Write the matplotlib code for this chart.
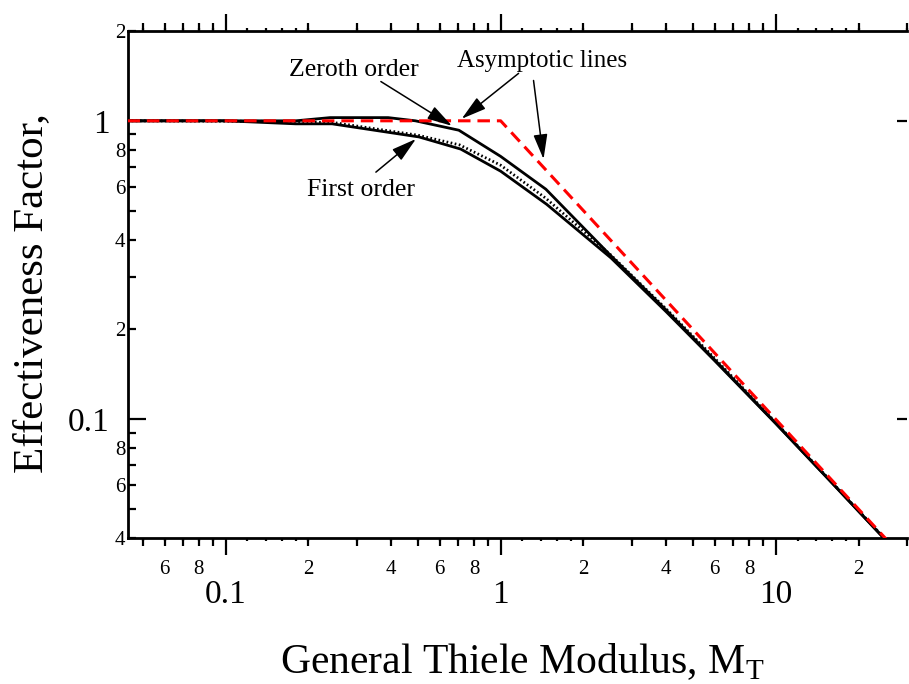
import numpy as np
import matplotlib
matplotlib.use('Agg')
import matplotlib.pyplot as plt
from matplotlib.ticker import FixedLocator, FuncFormatter, NullLocator

plt.rcParams['font.family'] = 'Liberation Serif'
plt.rcParams['lines.scale_dashes'] = False

# values
m_zero = [0.044, 0.1, 0.18, 0.24, 0.39, 0.49, 0.705, 1.0, 1.46, 2.5, 4.0, 6.0, 10.0, 16.0, 25.0, 30.0]
eta_zero = [1.0, 1.0, 1.0, 1.025, 1.025, 1.0, 0.93, 0.76, 0.59, 0.355, 0.232, 0.158, 0.097, 0.0613, 0.0395, 0.0329]

m_first = [0.044, 0.1, 0.18, 0.244, 0.505, 0.716, 1.0, 1.47, 2.52, 4.0, 6.0, 10.0, 16.0, 25.0, 30.0]
eta_first = [1.0, 1.0, 0.977, 0.977, 0.883, 0.804, 0.678, 0.525, 0.347, 0.229, 0.157, 0.0967, 0.0612, 0.0395, 0.0326]

m_dot = [0.044, 0.18, 0.25, 0.5, 0.71, 1.0, 1.46, 2.5, 4.0, 6.0, 10.0, 16.0, 25.0, 30.0]
eta_dot = [1.0, 0.995, 0.985, 0.895, 0.83, 0.71, 0.55, 0.357, 0.234, 0.16, 0.0975, 0.0615, 0.0397, 0.033]

m_asym = [0.044, 1.0, 30.0]
eta_asym = [1.0, 1.0, 0.0333]

x_major = [0.1, 1, 10]
x_major_lab = ['0.1', '1', '10']
x_minor = [0.05, 0.06, 0.07, 0.08, 0.09, 0.2, 0.3, 0.4, 0.5, 0.6, 0.7, 0.8, 0.9,
           2, 3, 4, 5, 6, 7, 8, 9, 20, 30]
x_minor_lab = [0.06, 0.08, 0.2, 0.4, 0.6, 0.8, 2, 4, 6, 8, 20]
x_tiny = [0.12, 0.14, 0.16, 0.18, 1.2, 1.4, 1.6, 1.8, 12, 14, 16, 18]
y_major = [0.1, 1]
y_major_lab = ['0.1', '1']
y_minor = [0.04, 0.05, 0.06, 0.07, 0.08, 0.09, 0.2, 0.3, 0.4, 0.5, 0.6, 0.7, 0.8, 0.9, 2]
y_minor_lab = [0.04, 0.06, 0.08, 0.2, 0.4, 0.6, 0.8, 2]


def digit_label(labelled):
    # minor ticks show only their leading digit
    def fmt(v, pos):
        if any(abs(v - t) < 1e-9 for t in labelled):
            return '%d' % round(v / 10 ** np.floor(np.log10(v) + 1e-9))
        return ''
    return FuncFormatter(fmt)


fig = plt.figure(figsize=(9.09, 6.84), dpi=100)
ax = fig.add_axes([0.1408, 0.2135, 0.857, 0.7412])

ax.plot(m_zero, eta_zero, color='black', lw=2.0, zorder=2)
ax.plot(m_first, eta_first, color='black', lw=2.0, zorder=2)
ax.plot(m_dot, eta_dot, color='black', lw=2.0, dashes=(1.2, 1.8), zorder=2)
ax.plot(m_asym, eta_asym, color='#ff0000', lw=2.2, dashes=(9, 5), zorder=3)

ax.set_xscale('log')
ax.set_yscale('log')
ax.set_xlim(0.0442, 30)
ax.set_ylim(0.04, 2)

ax.spines['right'].set_visible(False)
for s in ('left', 'bottom', 'top'):
    ax.spines[s].set_linewidth(2)

ax.set_xticks(x_major, x_major_lab)
ax.xaxis.set_minor_locator(FixedLocator(x_minor))
ax.xaxis.set_minor_formatter(digit_label(x_minor_lab))
ax.set_yticks(y_major, y_major_lab)
ax.yaxis.set_minor_locator(FixedLocator(y_minor))
ax.yaxis.set_minor_formatter(digit_label(y_minor_lab))

ax.tick_params(axis='x', which='both', direction='out', top=True, bottom=True, width=1.6)
ax.tick_params(axis='x', which='major', length=12, labelsize=24, pad=18)
ax.tick_params(axis='x', which='minor', length=6, labelsize=15, pad=10)
ax.tick_params(axis='y', which='both', direction='in', left=True, right=False, width=1.6)
ax.tick_params(axis='y', which='major', length=13, labelsize=24, pad=13)
ax.tick_params(axis='y', which='minor', length=6, labelsize=15, pad=2)

# tiny ticks between 1 and 2 of each decade
for loc in ('bottom', 'top'):
    sec = ax.secondary_xaxis(loc)
    sec.set_xticks(x_tiny)
    sec.tick_params(which='both', direction='out', length=2.5, width=1.6,
                    labelbottom=False, labeltop=False)
    sec.spines[loc].set_visible(False)

# right side: only the decade ticks
secy = ax.secondary_yaxis('right')
secy.set_yticks(y_major)
secy.yaxis.set_minor_locator(NullLocator())
secy.tick_params(which='both', direction='in', length=7, width=1.6, labelright=False)
secy.spines['right'].set_visible(False)

fig.text(32 / 909, 1 - 293 / 684, 'Effectiveness Factor,', rotation=90,
         ha='center', va='center', fontsize=31)
fig.text(522 / 909, 1 - 673 / 684, 'General Thiele Modulus, M$_{\\mathregular{T}}$',
         ha='center', va='baseline', fontsize=30)

arrow = dict(arrowstyle='-|>,head_length=0.85,head_width=0.24', color='black',
             lw=1.1, mutation_scale=18, shrinkA=0, shrinkB=0)
ax.text(0.1706, 1.408, 'Zeroth order', fontsize=18.5, ha='left', va='baseline')
ax.annotate('', xy=(0.665, 0.962), xytext=(0.367, 1.354), arrowprops=arrow)
ax.text(0.198, 0.558, 'First order', fontsize=18.5, ha='left', va='baseline')
ax.annotate('', xy=(0.492, 0.869), xytext=(0.352, 0.673), arrowprops=arrow)
ax.text(0.693, 1.51, 'Asymptotic lines', fontsize=18, ha='left', va='baseline')
ax.annotate('', xy=(0.722, 1.016), xytext=(1.162, 1.442), arrowprops=arrow)
ax.annotate('', xy=(1.432, 0.744), xytext=(1.317, 1.365), arrowprops=arrow)

fig.savefig('out.png', dpi=100)
